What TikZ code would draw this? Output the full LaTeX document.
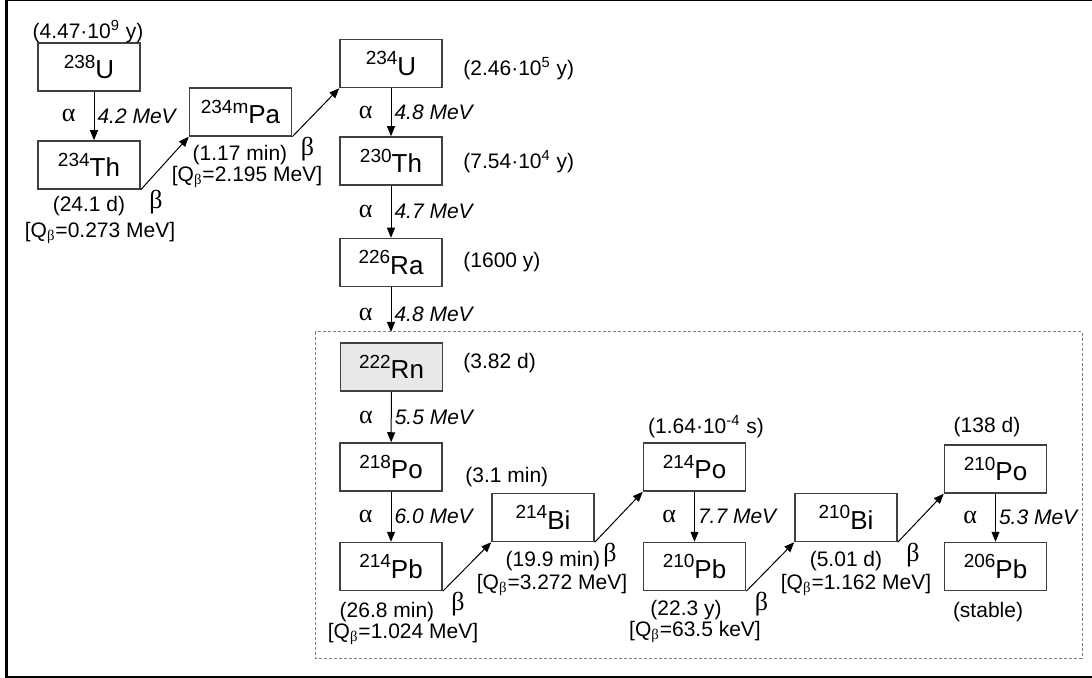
\documentclass[tikz,border=0pt]{standalone}
\usepackage{fontspec}
\setmainfont{Liberation Sans}
\newfontfamily\grk{Liberation Serif}
\usetikzlibrary{arrows.meta}
\definecolor{rnfill}{gray}{0.91}
\newcommand{\nuc}[2]{{\fontsize{9.5}{10}\selectfont\raisebox{5.3pt}{#1}}#2}
\newcommand{\qb}[1]{[Q\textsubscript{\grk β}=#1]}
\begin{document}
\begin{tikzpicture}[x=0.5pt,y=-0.5pt,
  nucl/.style={draw=black!75,line width=0.75pt,minimum width=51pt,minimum height=24pt,inner sep=0pt,font=\fontsize{13}{15}\selectfont},
  hl/.style={inner sep=0pt,font=\fontsize{10.5}{12}\selectfont},
  decay/.style={-{Triangle[length=5pt,width=4pt]},line width=0.5pt},
  al/.style={midway,left=9pt,inner sep=0pt,font=\fontsize{13}{14}\grk},
  ae/.style={midway,right=1.5pt,inner sep=0pt,font=\fontsize{10.5}{12}\selectfont\itshape},
  bl/.style={at start,anchor=north west,xshift=4pt,inner sep=0pt,font=\fontsize{13}{14}\grk}]
\useasboundingbox (0,0) rectangle (1092,678);
\draw[line width=1.5pt] (6.5,0) rectangle (1100,677.5);
\draw[gray,dash pattern=on 1.5pt off 1pt,line width=0.5pt] (315,332) rectangle (1082,658);
\coordinate (dtop) at (315,332);
% uranium series
\node[nucl] (U238) at (89,67) {\nuc{238}{U}};
\node[nucl] (Th234) at (89,165) {\nuc{234}{Th}};
\node[nucl] (Pa234) at (240.5,112) {\nuc{234m}{Pa}};
\node[nucl] (U234) at (391,63.5) {\nuc{234}{U}};
\node[nucl] (Th230) at (391,161) {\nuc{230}{Th}};
\node[nucl] (Ra226) at (391,262.5) {\nuc{226}{Ra}};
\node[nucl,fill=rnfill] (Rn222) at (391.5,367) {\nuc{222}{Rn}};
\node[nucl] (Po218) at (391,467) {\nuc{218}{Po}};
\node[nucl] (Pb214) at (391,566.5) {\nuc{214}{Pb}};
\node[nucl] (Bi214) at (543,517.5) {\nuc{214}{Bi}};
\node[nucl] (Po214) at (694.5,467) {\nuc{214}{Po}};
\node[nucl] (Pb210) at (694.5,566.5) {\nuc{210}{Pb}};
\node[nucl] (Bi210) at (846,517.5) {\nuc{210}{Bi}};
\node[nucl] (Po210) at (995.5,469) {\nuc{210}{Po}};
\node[nucl] (Pb206) at (995.5,566.5) {\nuc{206}{Pb}};
% half-lives
\node[hl] (tU238) at (88,32) {(4.47·10\textsuperscript{9} y)};
\node[hl] (tTh234) at (89,206) {(24.1 d)};
\node[hl] (qTh234) at (100,233) {\qb{0.273 MeV}};
\node[hl] (tPa234) at (240,155) {(1.17 min)};
\node[hl] (qPa234) at (247,177) {\qb{2.195 MeV}};
\node[hl,anchor=west] (tU234) at (463,69) {(2.46·10\textsuperscript{5} y)};
\node[hl,anchor=west] (tTh230) at (463,162) {(7.54·10\textsuperscript{4} y)};
\node[hl,anchor=west] (tRa226) at (463,262) {(1600 y)};
\node[hl,anchor=west] (tRn222) at (463,363) {(3.82 d)};
\node[hl,anchor=west] (tPo218) at (465,477) {(3.1 min)};
\node[hl] (tPb214) at (387,612) {(26.8 min)};
\node[hl] (qPb214) at (403,634) {\qb{1.024 MeV}};
\node[hl] (tBi214) at (553,561) {(19.9 min)};
\node[hl] (qBi214) at (552,585) {\qb{3.272 MeV}};
\node[hl] (tPo214) at (706,427) {(1.64·10\textsuperscript{-4} s)};
\node[hl] (tPb210) at (686,610) {(22.3 y)};
\node[hl] (qPb210) at (695,632) {\qb{63.5 keV}};
\node[hl] (tBi210) at (846,561) {(5.01 d)};
\node[hl] (qBi210) at (856,585) {\qb{1.162 MeV}};
\node[hl] (tPo210) at (987,427) {(138 d)};
\node[hl] (sPb206) at (988,612) {(stable)};
% decays
\draw[decay] ([xshift=2.5pt]U238.south) -- ([xshift=2.5pt]Th234.north) node[al] {α} node[ae] {4.2 MeV};
\draw[decay] (Th234.south east) -- (Pa234.south west) node[bl] {β};
\draw[decay] (Pa234.south east) -- (U234.south west) node[bl] {β};
\draw[decay] (U234) -- (Th230) node[al] {α} node[ae] {4.8 MeV};
\draw[decay] (Th230) -- (Ra226) node[al] {α} node[ae] {4.7 MeV};
\draw[decay] (Ra226.south) -- (Ra226.south |- dtop) node[al,pos=0.6] {α} node[ae,pos=0.6] {4.8 MeV};
\draw[decay] (Rn222) -- (Po218) node[al] {α} node[ae] {5.5 MeV};
\draw[decay] (Po218) -- (Pb214) node[al] {α} node[ae] {6.0 MeV};
\draw[decay] (Pb214.south east) -- (Bi214.south west) node[bl] {β};
\draw[decay] (Bi214.south east) -- (Po214.south west) node[bl] {β};
\draw[decay] (Po214) -- (Pb210) node[al] {α} node[ae] {7.7 MeV};
\draw[decay] (Pb210.south east) -- (Bi210.south west) node[bl] {β};
\draw[decay] (Bi210.south east) -- (Po210.south west) node[bl] {β};
\draw[decay] (Po210) -- (Pb206) node[al] {α} node[ae] {5.3 MeV};
\end{tikzpicture}
\end{document}
